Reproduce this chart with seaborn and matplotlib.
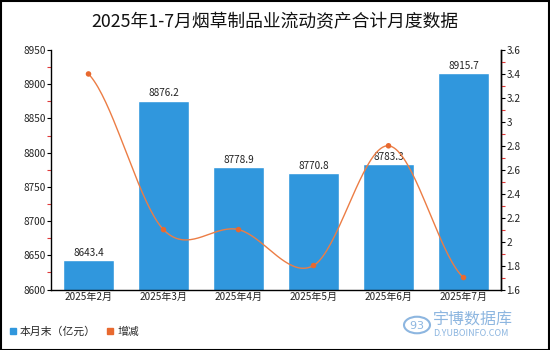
import numpy as np
import pandas as pd
import matplotlib
matplotlib.use("Agg")
import matplotlib.pyplot as plt
import seaborn as sns
from matplotlib.lines import Line2D
from matplotlib.patches import Rectangle, Circle
from matplotlib.ticker import MultipleLocator, FuncFormatter

months = ['2025年2月', '2025年3月', '2025年4月', '2025年5月', '2025年6月', '2025年7月']
values = [8643.4, 8876.2, 8778.9, 8770.8, 8783.3, 8915.7]
change = [3.4, 2.1, 2.1, 1.8, 2.8, 1.7]
title = '2025年1-7月烟草制品业流动资产合计月度数据'
legend_labels = ['本月末（亿元）', '增减']

BAR = '#3097dd'
LINE = '#e8692f'

sns.set_theme(style='white')
plt.rcParams['font.family'] = ['Noto Sans CJK SC', 'DejaVu Sans']
plt.rcParams['axes.unicode_minus'] = False

fig = plt.figure(figsize=(5.5, 3.5), dpi=100)
ax = fig.add_axes([51/550, 1-289.5/350, 450/550, (289.5-50)/350])

df = pd.DataFrame({'month': months, 'value': values, 'change': change})
sns.barplot(data=df, x='month', y='value', color=BAR, saturation=1, width=0.667, ax=ax)
ax.set_ylim(8600, 8950)
ax.set_xlim(-0.5, len(months) - 0.5)
ax.set_xlabel('')
ax.set_ylabel('')
ax.yaxis.set_major_locator(MultipleLocator(50))
ax.yaxis.set_minor_locator(MultipleLocator(25))
ax.tick_params(axis='y', which='major', length=3, width=0.8, color='black', labelsize=7.2, labelcolor='#222222', pad=1)
ax.tick_params(axis='y', which='minor', length=3, width=0.8, color='#e03a3a', left=True)
ax.tick_params(axis='x', length=0, labelsize=7.2, labelcolor='#222222', pad=2)
for s in ['top']:
    ax.spines[s].set_visible(False)
for s in ['left', 'bottom', 'right']:
    ax.spines[s].set_visible(True)
    ax.spines[s].set_color('black')
    ax.spines[s].set_linewidth(1.0)

for i, v in enumerate(values):
    ax.text(i, v + 3, f'{v:.1f}', ha='center', va='bottom', fontsize=7.2, color='#222222')

ax2 = ax.twinx()
ax2.set_ylim(1.6, 3.6)
# smooth curve (Catmull-Rom style Hermite) through the data points
xs = np.arange(len(change), dtype=float)
ys = np.array(change, dtype=float)
n = len(ys)
m = np.zeros(n)
for i in range(n):
    if i == 0:
        m[i] = (ys[1] - ys[0]) * 0.5
    elif i == n - 1:
        m[i] = (ys[-1] - ys[-2]) * 0.5
    else:
        m[i] = (ys[i + 1] - ys[i - 1]) / 2
cx, cy = [], []
for i in range(n - 1):
    t = np.linspace(0, 1, 40)
    h00 = 2*t**3 - 3*t**2 + 1
    h10 = t**3 - 2*t**2 + t
    h01 = -2*t**3 + 3*t**2
    h11 = t**3 - t**2
    cx.extend(xs[i] + t)
    cy.extend(h00*ys[i] + h10*m[i] + h01*ys[i+1] + h11*m[i+1])
ax2.plot(cx, cy, color='#ec7d45', lw=1.0, zorder=3)
sns.scatterplot(x=xs, y=ys, color=LINE, s=16, edgecolor='none', ax=ax2, zorder=4, legend=False)
ax2.yaxis.set_major_locator(MultipleLocator(0.2))
ax2.yaxis.set_minor_locator(MultipleLocator(0.1))
ax2.yaxis.set_major_formatter(FuncFormatter(lambda v, p: f'{v:g}'))
ax2.tick_params(axis='y', which='major', length=3, width=0.8, color='black', labelsize=7.2, labelcolor='#222222', pad=1)
ax2.tick_params(axis='y', which='minor', length=3, width=0.8, color='#e03a3a', right=True)
ax2.set_ylabel('')
for s in ['top', 'left', 'bottom']:
    ax2.spines[s].set_visible(False)
ax2.spines['right'].set_color('black')
ax2.spines['right'].set_linewidth(1.0)
ax2.grid(False)
ax.grid(False)

fig.text(0.5, 1 - 22/350, title, ha='center', va='center', fontsize=12.8, color='#111111')

handles = [Line2D([], [], marker='s', linestyle='none', color=BAR, markersize=5),
           Line2D([], [], marker='s', linestyle='none', color=LINE, markersize=5)]
fig.legend(handles, legend_labels, loc='center left', bbox_to_anchor=(0.008, 1 - 332/350),
           ncol=2, frameon=False, fontsize=7.8, handlelength=0.7, handletextpad=0.3,
           columnspacing=1.0, borderaxespad=0)

# watermark
wm = '#8db6e0'
fig.patches.append(Circle((417/550, 1 - 325/350), 13/550, transform=fig.transFigure,
                          facecolor='none', edgecolor=wm, lw=1.5))
fig.text(417/550, 1 - 325/350, '$\\mathit{93}$', ha='center', va='center', fontsize=8, color=wm)
fig.text(433/550, 1 - 320/350, '宇博数据库', ha='left', va='center', fontsize=11.5, color=wm)
fig.text(433/550, 1 - 334/350, 'D.YUBOINFO.COM', ha='left', va='center', fontsize=6.5, color=wm)

fig.patches.append(Rectangle((0.001, 0.001), 0.998, 0.997, transform=fig.transFigure,
                             facecolor='none', edgecolor='black', lw=1.5))

fig.savefig('out.png', dpi=100)
